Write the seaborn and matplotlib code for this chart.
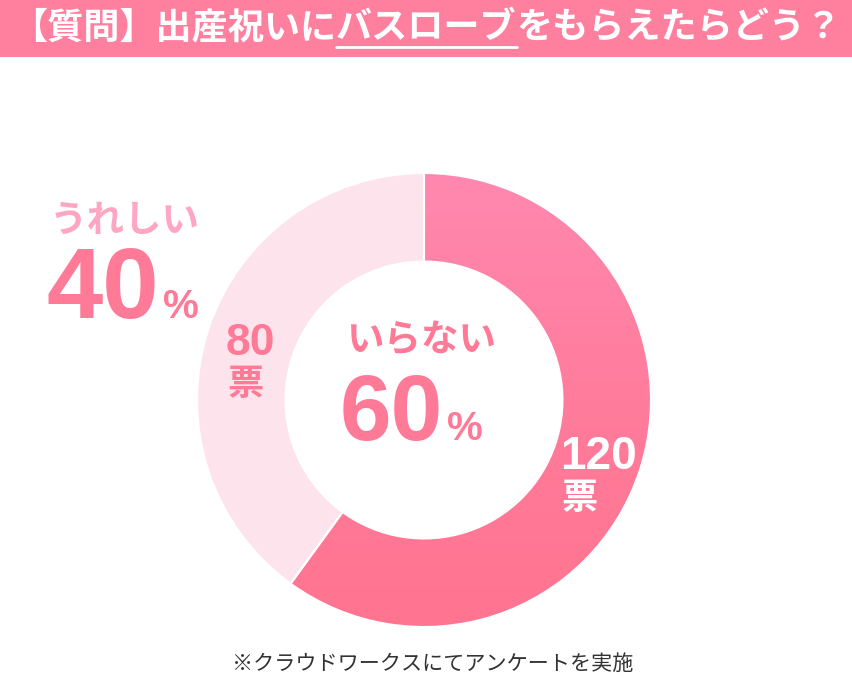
import numpy as np
import matplotlib
matplotlib.use("Agg")
import matplotlib.pyplot as plt
import seaborn as sns
from matplotlib.patches import Rectangle
from matplotlib.colors import LinearSegmentedColormap
from matplotlib.lines import Line2D

sns.set_theme(style="white")
plt.rcParams['font.family'] = ['Noto Sans CJK JP', 'DejaVu Sans']

# ---- data ----
labels = ["いらない", "うれしい"]
votes = [120, 80]
title_parts = ["【質問】出産祝いに", "バスローブ", "をもらえたらどう？"]
footnote = "※クラウドワークスにてアンケートを実施"
vote_unit = "票"

total = sum(votes)
percents = [round(v * 100 / total) for v in votes]

W, H = 852, 681
fig = plt.figure(figsize=(W / 100, H / 100), dpi=100)
fig.patch.set_facecolor("white")

def px(x, y):
    return x / W, 1 - y / H

PINK = "#FF7A96"
BAR = "#FF7F9E"
LIGHT = "#FDE4EC"
LABEL_LIGHT = "#FFA6C2"

# ---- title bar ----
fig.add_artist(Rectangle((0, 1 - 57 / H), 1, 57 / H, transform=fig.transFigure,
                         facecolor=BAR, edgecolor="none", zorder=0))
renderer = fig.canvas.get_renderer()
title_kw = dict(fontsize=26, fontweight="bold", color="white", va="center", ha="left")
x = 11
tx = []
for part in title_parts:
    t = fig.text(*px(x, 28), part, **title_kw)
    bb = t.get_window_extent(renderer)
    tx.append((x, x + bb.width))
    x += bb.width
# underline under second part
x0, x1 = tx[1]
fig.add_artist(Line2D([x0 / W, x1 / W], [1 - 47 / H, 1 - 47 / H], transform=fig.transFigure,
                      color="white", lw=2))

# ---- donut ----
cx, cy, R = 424, 400, 227
ax = fig.add_axes([(cx - R) / W, (H - cy - R) / H, 2 * R / W, 2 * R / H])
wedges, _ = ax.pie(votes, startangle=90, counterclock=False,
                   colors=[PINK, LIGHT],
                   wedgeprops=dict(width=0.39, edgecolor="white", linewidth=1.5))
ax.set_xlim(-1, 1)
ax.set_ylim(-1, 1)
ax.set_aspect("equal")
ax.axis("off")

# gradient fill for main wedge
cmap = LinearSegmentedColormap.from_list("g", ["#FF7490", "#FF7C9C", "#FF88B0"])
grad = np.linspace(0, 1, 256).reshape(-1, 1)
im = ax.imshow(grad, extent=[-1, 1, -1, 1], origin="lower", cmap=cmap,
               aspect="auto", zorder=0.5)
im.set_clip_path(wedges[0])
wedges[0].set_facecolor("none")
wedges[0].set_zorder(2)
ax.set_xlim(-1, 1)
ax.set_ylim(-1, 1)

# ---- texts ----
num_font = ["Liberation Sans", "DejaVu Sans"]
jp_font = ["Noto Sans CJK JP", "DejaVu Sans"]

def num_pct(xl, ybase, value, big, small, color, gap=3):
    t = fig.text(*px(xl, ybase), str(value), fontsize=big, fontweight="bold",
                 color=color, family=num_font, ha="left", va="baseline")
    bb = t.get_window_extent(renderer)
    fig.text(*px(xl + bb.width + gap, ybase), "%", fontsize=small, fontweight="bold",
             color=color, family=num_font, ha="left", va="baseline")

# left label (うれしい 40%)
fig.text(*px(50, 220), labels[1], fontsize=27, fontweight="bold", color=LABEL_LIGHT,
         family=jp_font, ha="left", va="center")
num_pct(46, 318, percents[1], 73, 29, PINK, gap=4)

# center label (いらない 60%)
fig.text(*px(421, 340), labels[0], fontsize=27, fontweight="bold", color=PINK,
         family=jp_font, ha="center", va="center")
num_pct(340, 440, percents[0], 67, 29, PINK, gap=4)

# vote counts
fig.text(*px(226, 355), str(votes[1]), fontsize=32, fontweight="bold", color=PINK,
         family=num_font, ha="left", va="baseline")
fig.text(*px(246, 385), vote_unit, fontsize=26, fontweight="bold", color=PINK,
         family=jp_font, ha="center", va="center")
fig.text(*px(560, 469), str(votes[0]), fontsize=33, fontweight="bold", color="white",
         family=num_font, ha="left", va="baseline")
fig.text(*px(580, 498), vote_unit, fontsize=26, fontweight="bold", color="white",
         family=jp_font, ha="center", va="center")

# footnote
fig.text(*px(433, 664), footnote, fontsize=15.2, color="#333333",
         family=jp_font, ha="center", va="center")

fig.savefig("out.png", dpi=100)
